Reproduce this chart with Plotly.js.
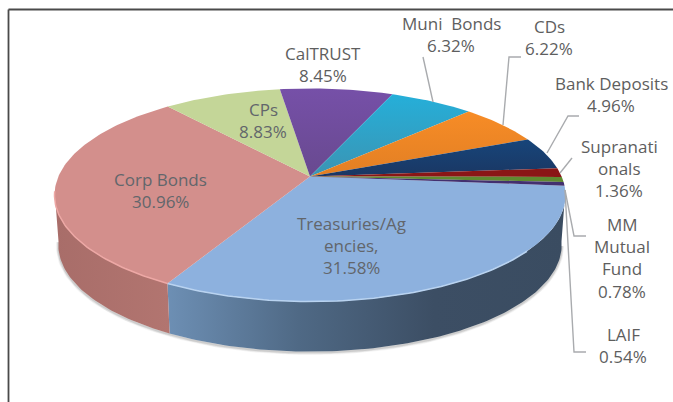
<!DOCTYPE html>
<html>
<head>
<meta charset="utf-8">
<script src="https://cdn.plot.ly/plotly-3.0.1.min.js"></script>
<style>html,body{margin:0;padding:0;background:#fff}#chart{width:673px;height:402px}</style>
</head>
<body>
<div id="chart"></div>
<script>
// Portfolio allocation by asset class, shown as a tilted pie with a side wall.
const categories = ["Treasuries/Ag<br>encies,", "Corp Bonds", "CPs", "CalTRUST", "Muni  Bonds", "CDs",
                    "Bank Deposits", "Supranati<br>onals", "MM<br>Mutual<br>Fund", "LAIF"];
const shares = [31.58, 30.96, 8.83, 8.45, 6.32, 6.22, 4.96, 1.36, 0.78, 0.54];

// Top-surface fill per slice: plain colour, or a gradient running from near edge to far edge.
const sliceColors = ["#8db1de", "#d38f8c", "#c4d698", ["#68498f", "#7650a8"], ["#3b94b3", "#25afd9"],
                     ["#e27f24", "#f78c26"], ["#1a3763", "#17457a"], "#8a1616", "#5f8a30", "#43306f"];
const rimColors = {0: "#b9d3f0", 1: "#eda8a5"};

// Centre of each label block, in plot units.
const labelCentres = [[351, 223], [160, 179], [263, 109], [323, 53], [451, 23], [549, 26],
                      [611, 83], [619, 146], [622, 224], [623, 334]];
const lineGap = 22.4;

// Leader lines for labels that sit outside the pie.
const leaders = [
  [[423, 57], [433, 102]],
  [[521, 57], [509, 57], [503, 125]],
  [[579, 116], [568, 116], [547, 153]],
  [[572, 158], [560, 173]],
  [[586, 236], [574, 236], [565, 190]],
  [[586, 352], [574, 352], [565, 190]]
];

// Perspective projection of the pie disc.
const apex = {x: 310, y: 176.5}, scaleX = 251.6, scaleY = 103.3, tilt = 0.174, depth = 50;
const startAngle = 95;

function project(deg, drop = 0, shrink = 1) {
  const t = deg * Math.PI / 180, u = Math.sin(t), v = Math.cos(t), w = 1 + tilt * v;
  return [apex.x + shrink * scaleX * u / w, apex.y - scaleY * v / w + drop];
}
function arc(a, b, drop = 0, shrink = 1) {
  const n = Math.max(2, Math.ceil(Math.abs(b - a))), pts = [];
  for (let i = 0; i <= n; i++) pts.push(project(a + (b - a) * i / n, drop, shrink));
  return pts;
}
const xs = p => p.map(q => q[0]), ys = p => p.map(q => q[1]);

const edges = [startAngle];
shares.forEach(s => edges.push(edges[edges.length - 1] + s * 3.6));

const traces = [];
function poly(pts, extra) {
  traces.push(Object.assign({x: xs(pts), y: ys(pts), type: "scatter", mode: "lines", hoverinfo: "skip",
                             showlegend: false, line: {width: 0}, fill: "toself"}, extra));
}
function stroke(pts, color, width) {
  traces.push({x: xs(pts), y: ys(pts), type: "scatter", mode: "lines", hoverinfo: "skip",
               showlegend: false, line: {color, width}});
}

// Soft shadow under the wall.
[[5, "rgba(90,90,90,0.06)"], [3.5, "rgba(90,90,90,0.10)"], [2, "rgba(80,80,80,0.16)"]].forEach(([w, c]) =>
  stroke(arc(100, 262, depth + 1, 0.985), c, w));

// Side wall of the two front slices.
function wall(a, b, scale) {
  poly(arc(a, b).concat(arc(b, a, depth, 0.985)), {
    fillcolor: scale[0][1],
    fillgradient: {type: "horizontal", colorscale: scale}
  });
}
wall(98, edges[1], [[0, "#6d8fb4"], [0.33, "#4f6985"], [0.67, "#3c4e64"], [1, "#3a4c61"]]);
wall(edges[1], 262, [[0, "#a86d69"], [1, "#b27570"]]);

// Top surface.
shares.forEach((_, i) => {
  const pts = [[apex.x, apex.y]].concat(arc(edges[i], edges[i + 1]));
  const c = sliceColors[i];
  const style = Array.isArray(c)
    ? {fillcolor: c[0], fillgradient: {type: "vertical", colorscale: [[0, c[0]], [1, c[1]]]}}
    : {fillcolor: c};
  poly(pts, style);
});

// Light rim along the front edge.
stroke(arc(130, edges[1]), rimColors[0], 1.5);
stroke(arc(edges[1], 262), rimColors[1], 1.5);

leaders.forEach(l => stroke(l, "#a9abae", 1.4));

// One annotation per text line so the line pitch stays fixed.
const annotations = [];
categories.forEach((name, i) => {
  const lines = name.split("<br>").concat(shares[i].toFixed(2) + "%");
  lines.forEach((line, k) => annotations.push({
    x: labelCentres[i][0], y: labelCentres[i][1] + k * lineGap, text: line,
    xref: "x", yref: "y", showarrow: false, xanchor: "center", yanchor: "middle",
    font: {family: "Open Sans, sans-serif", size: 17, color: i < 3 ? "#62666b" : "#5e5e5e"}
  }));
});

const layout = {
  width: 673, height: 402, margin: {l: 0, r: 0, t: 0, b: 0},
  paper_bgcolor: "#fff", plot_bgcolor: "#fff", showlegend: false, hovermode: false,
  xaxis: {range: [0, 673], visible: false, fixedrange: true},
  yaxis: {range: [402, 0], visible: false, fixedrange: true},
  annotations,
  // Chart frame: top and left edges only.
  shapes: [
    {type: "line", xref: "paper", yref: "paper", x0: 8.5 / 673, x1: 1, y0: 1 - 9.5 / 402, y1: 1 - 9.5 / 402, line: {color: "#4a4a4a", width: 1.8}},
    {type: "line", xref: "paper", yref: "paper", x0: 8.5 / 673, x1: 8.5 / 673, y0: 0, y1: 1 - 9.5 / 402, line: {color: "#4a4a4a", width: 1.8}}
  ]
};

Plotly.newPlot("chart", traces, layout, {displayModeBar: false, staticPlot: true});
</script>
</body>
</html>
